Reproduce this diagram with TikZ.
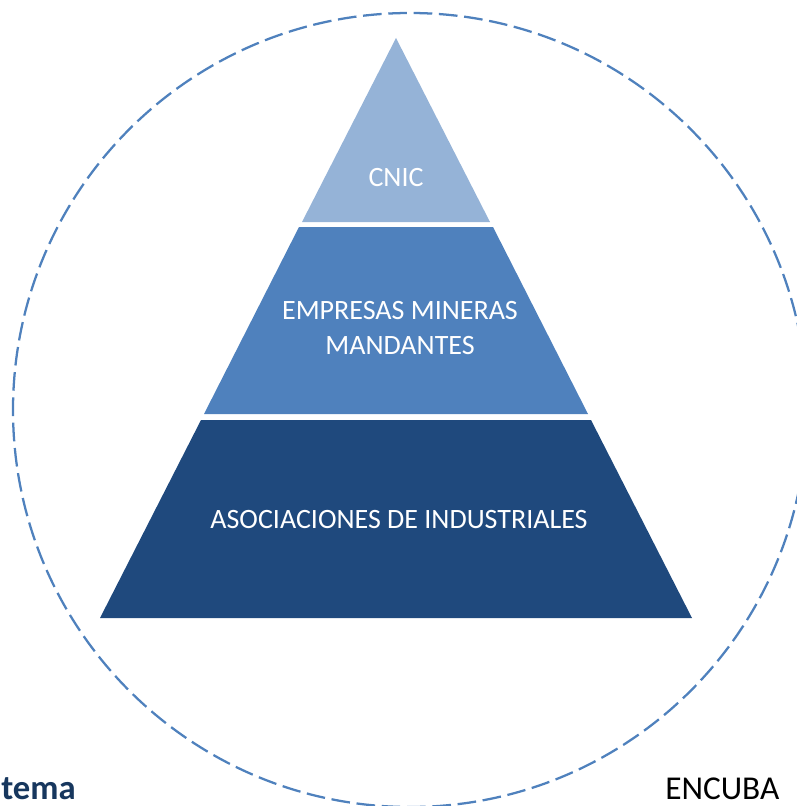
\documentclass[tikz,border=0pt]{standalone}
\usepackage{fontspec}
\setmainfont{Carlito}
\definecolor{lay1}{HTML}{95B3D7}
\definecolor{lay2}{HTML}{4F81BD}
\definecolor{lay3}{HTML}{1F497D}
\definecolor{ring}{HTML}{4F81BD}
\definecolor{navytxt}{HTML}{17375E}
\begin{document}
\begin{tikzpicture}[x=0.75pt,y=-0.75pt,
  layertext/.style={text=white,font=\fontsize{21}{26.25}\selectfont,align=center,inner sep=0pt},
  ringline/.style={draw=ring,line width=1.7pt,dash pattern=on 14pt off 5pt}]
\useasboundingbox (0,0) rectangle (796,806);
% dashed circle
\draw[ringline] (410,410) circle[radius=397];
% pyramid layers
\fill[lay1] (396,38) -- (490,222) -- (302,222) -- cycle;
\fill[lay2] (299,227) -- (493,227) -- (588,414) -- (204,414) -- cycle;
\fill[lay3] (201,420) -- (591,420) -- (692,618) -- (100,618) -- cycle;
% labels
\node[layertext,anchor=base] (cnic) at (396,186) {CNIC};
\node[layertext,anchor=center] (emp) at (400,328.5) {EMPRESAS MINERAS\\MANDANTES};
\node[layertext,anchor=base] (asoc) at (399,528) {ASOCIACIONES DE INDUSTRIALES};
% corner texts
\node[anchor=base west,inner sep=0pt,text=navytxt,font=\fontsize{26}{30}\selectfont\bfseries] (tema) at (1,799) {tema};
\node[anchor=base west,inner sep=0pt,text=black,font=\fontsize{25}{30}\selectfont] (encuba) at (665,799) {ENCUBA};
\end{tikzpicture}
\end{document}
